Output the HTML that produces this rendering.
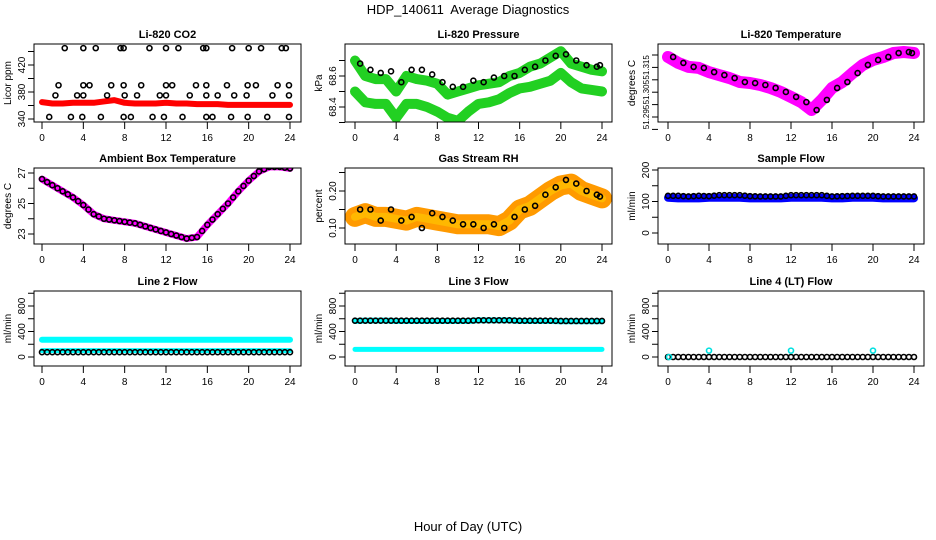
<!DOCTYPE html>
<html><head><meta charset="utf-8"><style>
body{margin:0;background:#fff}
svg{display:block;font-family:"Liberation Sans",Arial,sans-serif}
</style></head><body>
<svg id="c" width="936" height="540" viewBox="0 0 936 540">
<text x="468" y="14" text-anchor="middle" font-size="13">HDP_140611&#160; Average Diagnostics</text>
<text x="468" y="531" text-anchor="middle" font-size="13">Hour of Day (UTC)</text>
</svg>
<script>
const hours = [0,1,2,3,4,5,6,7,8,9,10,11,12,13,14,15,16,17,18,19,20,21,22,23,24];
const xTicks = [0,4,8,12,16,20,24];
const co2Red = [365,363,363,364,364,364,366,368,364,363,363,363,364,363,363,362,362,362,361,361,361,361,361,361,361];
const co2BlackX = [2.2,4,5.2,7.6,7.9,10.4,12,13.2,15.6,15.9,18.4,20,21.2,23.2,23.6, 1.6,4,4.6,6.7,7.9,9.6,12,12.6,14.9,15.9,17.9,19.9,20.7,22.8,23.9, 1.3,3.4,4,6.3,8,9.2,11.4,12,14.3,15.9,17,18.6,19.8,22.3,23.9, 0.7,2.8,3.9,5.7,7.9,8.6,10.7,11.8,13.6,15.9,16.5,18.3,19.9,21.8,23.9];
const co2BlackY = [445,445,445,445,445,445,445,445,445,445,445,445,445,445,445, 390,390,390,390,390,390,390,390,390,390,390,390,390,390,390, 375,375,375,375,375,375,375,375,375,375,375,375,375,375,375, 343,343,343,343,343,343,343,343,343,343,343,343,343,343,343];
const presBlack = [68.68,68.64,68.62,68.63,68.56,68.64,68.64,68.61,68.56,68.53,68.53,68.57,68.56,68.59,68.6,68.6,68.64,68.66,68.7,68.73,68.74,68.7,68.67,68.66,68.67];
const presGreenUp = [68.7,68.6,68.58,68.58,68.5,68.6,68.58,68.57,68.55,68.48,68.5,68.52,68.54,68.55,68.56,68.6,68.62,68.66,68.68,68.72,68.76,68.68,68.66,68.64,68.63];
const presGreenLo = [68.5,68.43,68.42,68.42,68.33,68.42,68.42,68.4,68.37,68.33,68.31,68.37,68.42,68.43,68.45,68.49,68.52,68.53,68.55,68.57,68.62,68.56,68.52,68.51,68.5];
const tempMag = [51.3192,51.3168,51.3152,51.3148,51.3131,51.3119,51.3107,51.3091,51.3087,51.3079,51.3067,51.3051,51.3031,51.3010,51.2978,51.3019,51.3067,51.3091,51.3127,51.3160,51.3180,51.3192,51.3208,51.3212,51.3208];
const ambient = [26.6,26.2,25.8,25.4,24.9,24.3,24.0,23.9,23.8,23.7,23.5,23.3,23.1,22.9,22.7,22.8,23.6,24.3,25.0,25.8,26.5,27.1,27.4,27.4,27.3];
const rh = [0.13,0.14,0.13,0.13,0.125,0.12,0.13,0.125,0.12,0.115,0.11,0.11,0.11,0.11,0.105,0.12,0.15,0.16,0.18,0.2,0.215,0.22,0.2,0.19,0.18];
const rhBlack = [0.15,0.15,0.12,0.15,0.12,0.13,0.10,0.14,0.13,0.12,0.11,0.11,0.10,0.11,0.10,0.13,0.15,0.16,0.19,0.21,0.23,0.22,0.20,0.19,0.185];
const sampleBlue = [112,110,110,110,112,112,112,112,110,110,110,110,112,112,112,112,110,110,112,112,112,110,110,110,110];
const sampleBlack = [118,118,116,118,117,120,120,120,117,116,116,116,120,120,120,120,116,117,118,118,118,116,116,116,116];
const l2Cyan = [270,270,270,270,270,270,270,270,270,270,270,270,270,270,270,270,270,270,270,270,270,270,270,270,270];
const l2CyanLo = [100,100,100,100,100,100,100,100,100,100,100,100,100,100,100,100,100,100,100,100,100,100,100,100,100];
const l2Black = [75,75,75,75,75,75,75,75,75,75,75,75,75,75,75,75,75,75,75,75,75,75,75,75,75];
const l3Cyan = [565,570,570,570,565,565,565,565,565,565,565,565,575,575,575,575,565,565,565,565,560,560,560,560,560];
const l3CyanLo = [120,120,120,120,120,120,120,120,120,120,120,120,120,120,120,120,120,120,120,120,120,120,120,120,120];
const l3Black = [570,570,570,570,570,570,570,570,570,570,570,570,575,575,575,575,570,570,570,570,565,565,565,565,565];
const l4Black = [0,0,0,0,0,0,0,0,0,0,0,0,0,0,0,0,0,0,0,0,0,0,0,0,0];
const l4CyanX = [0.1,4,12,20];
const l4CyanY = [0,100,100,100];

const svg = document.getElementById('c');
const NS = 'http://www.w3.org/2000/svg';
function mk(tag, attrs, parent){const e=document.createElementNS(NS,tag);for(const k in attrs)e.setAttribute(k,attrs[k]);(parent||svg).appendChild(e);return e;}
const cols=[{x0:34,x1:301,a:42,b:290},{x0:345,x1:612,a:355,b:602},{x0:658,x1:924,a:668,b:914}];
const rows=[{y0:44,y1:122},{y0:168,y1:244},{y0:291,y1:366}];

function panel(name,title,ylab,r,c,v1,p1,v2,p2,ticks,labels,draw,lfs){
  const R=rows[r],C=cols[c];
  const g=mk('g',{});
  
  
  const sx=h=>C.a+(C.b-C.a)*h/24;
  const sy=v=>p1+(p2-p1)*(v-v1)/(v2-v1);
  const t=mk('text',{x:(C.x0+C.x1)/2,y:R.y0-6,'text-anchor':'middle','font-size':11,'font-weight':'bold'},g);
  t.textContent=title;
  
  
  const yl=mk('text',{transform:`translate(${C.x0-23},${(R.y0+R.y1)/2}) rotate(-90)`,'text-anchor':'middle','font-size':10},g);
  yl.textContent=ylab;
  
  
  const clip=mk('clipPath',{id:'cl'+name},g);
  mk('rect',{x:C.x0,y:R.y0,width:C.x1-C.x0,height:R.y1-R.y0},clip);
  const pg=mk('g',{'clip-path':`url(#cl${name})`},g);
  draw(pg,sx,sy);
  mk('rect',{x:C.x0,y:R.y0,width:C.x1-C.x0,height:R.y1-R.y0,fill:'none',stroke:'#000','stroke-width':1},g);
  ticks.forEach((v,i)=>{
    const y=sy(v);
    const tk=mk('line',{x1:C.x0-6,x2:C.x0,y1:y,y2:y,stroke:'#000'},g);
    
    
    if(labels[i]){
      const l=mk('text',{transform:`translate(${C.x0-9},${y}) rotate(-90)`,'text-anchor':'middle','font-size':lfs||10},g);
      l.textContent=labels[i];
      
      
    }
  });
  xTicks.forEach(h=>{
    const x=sx(h);
    const tk=mk('line',{x1:x,x2:x,y1:R.y1,y2:R.y1+7,stroke:'#000'},g);
    
    
    const l=mk('text',{x:x,y:R.y1+19,'text-anchor':'middle','font-size':10},g);
    l.textContent=h;
    
    
  });
}
function band(g,sx,sy,vals,color,w,name){
  const p=mk('polyline',{points:hours.map((h,i)=>sx(h)+','+sy(vals[i])).join(' '),fill:'none',stroke:color,'stroke-width':w,'stroke-linejoin':'round','stroke-linecap':'round'},g);
  
  
}
function dots(g,sx,sy,xs,ys,color,name,rr){
  xs.forEach((h,i)=>{
    const e=mk('circle',{cx:sx(h),cy:sy(ys[i]),r:rr||2.5,fill:'none',stroke:color,'stroke-width':1.6},g);
    
    
  });
}
function hourDots(g,sx,sy,vals,color,name){
  hours.forEach((h,i)=>{
    const e=mk('circle',{cx:sx(h),cy:sy(vals[i]),r:2.5,fill:'none',stroke:color,'stroke-width':1.6},g);
    
    
    if(i<hours.length-1){
      const m=mk('circle',{cx:sx(h+0.5),cy:sy((vals[i]+vals[i+1])/2),r:2.5,fill:'none',stroke:color,'stroke-width':1.6},g);
      
      
    }
  });
}

panel('co2-panel','Li-820 CO2','Licor ppm',0,0,340,119,420,65,[340,360,380,400,420,440],['340','','380','','420',''],(g,sx,sy)=>{
  band(g,sx,sy,co2Red,'#ff0000',6,'co2-red-series');
  dots(g,sx,sy,co2BlackX,co2BlackY,'#000','co2-black-point');
});
panel('pressure-panel','Li-820 Pressure','kPa',0,1,68.4,107,68.6,76,[68.3,68.4,68.5,68.6,68.7],['','68.4','','68.6',''],(g,sx,sy)=>{
  band(g,sx,sy,presGreenUp,'#22d022',10,'pressure-green-upper');
  band(g,sx,sy,presGreenLo,'#22d022',10,'pressure-green-lower');
  dots(g,sx,sy,hours.map(h=>Math.min(h+0.5,23.8)),presBlack,'#000','pressure-black-point');
});
panel('temp-panel','Li-820 Temperature','degrees C',0,2,51.295,117,51.305,92.2,[51.29,51.295,51.3,51.305,51.31,51.315,51.32],['','51.295','','51.305','','51.315',''],(g,sx,sy)=>{
  band(g,sx,sy,tempMag,'#ff00ff',12,'temp-magenta-series');
  dots(g,sx,sy,hours.map(h=>Math.min(h+0.5,23.8)),tempMag,'#000','temp-black-point');
},8);
panel('ambient-panel','Ambient Box Temperature','degrees C',1,0,23,234,27,173,[23,24,25,26,27],['23','','25','','27'],(g,sx,sy)=>{
  band(g,sx,sy,ambient,'#ff00ff',7,'ambient-magenta-series');
  hourDots(g,sx,sy,ambient,'#000','ambient-black-point');
});
panel('rh-panel','Gas Stream RH','percent',1,1,0.10,228,0.20,191,[0.10,0.15,0.20,0.25],['0.10','','0.20',''],(g,sx,sy)=>{
  band(g,sx,sy,rh,'#ff9a00',20,'rh-orange-series');
  band(g,sx,sy,rh,'#ffb800',8,'rh-yellow-core');
  dots(g,sx,sy,hours.map(h=>Math.min(h+0.5,23.8)),rhBlack,'#000','rh-black-point');
});
panel('sample-flow-panel','Sample Flow','ml/min',1,2,0,233,200,170,[0,50,100,150,200],['0','','100','','200'],(g,sx,sy)=>{
  band(g,sx,sy,sampleBlue,'#0000ff',8,'sample-blue-series');
  hourDots(g,sx,sy,sampleBlack,'#000','sample-black-point');
});
panel('line2-panel','Line 2 Flow','ml/min',2,0,0,357,800,306,[0,200,400,600,800,1000],['0','','400','','800',''],(g,sx,sy)=>{
  band(g,sx,sy,l2Cyan,'#00ffff',6,'line2-cyan-upper');
  band(g,sx,sy,l2CyanLo,'#00ffff',5,'line2-cyan-lower');
  hourDots(g,sx,sy,l2Black,'#000','line2-black-point');
});
panel('line3-panel','Line 3 Flow','ml/min',2,1,0,357,800,306,[0,200,400,600,800,1000],['0','','400','','800',''],(g,sx,sy)=>{
  band(g,sx,sy,l3Cyan,'#00ffff',6,'line3-cyan-upper');
  band(g,sx,sy,l3CyanLo,'#00ffff',5,'line3-cyan-lower');
  hourDots(g,sx,sy,l3Black,'#000','line3-black-point');
});
panel('line4-panel','Line 4 (LT) Flow','ml/min',2,2,0,357,800,306,[0,200,400,600,800,1000],['0','','400','','800',''],(g,sx,sy)=>{
  hourDots(g,sx,sy,l4Black,'#000','line4-black-point');
  dots(g,sx,sy,l4CyanX,l4CyanY,'#00e0e0','line4-cyan-point');
});
</script>
</body></html>
